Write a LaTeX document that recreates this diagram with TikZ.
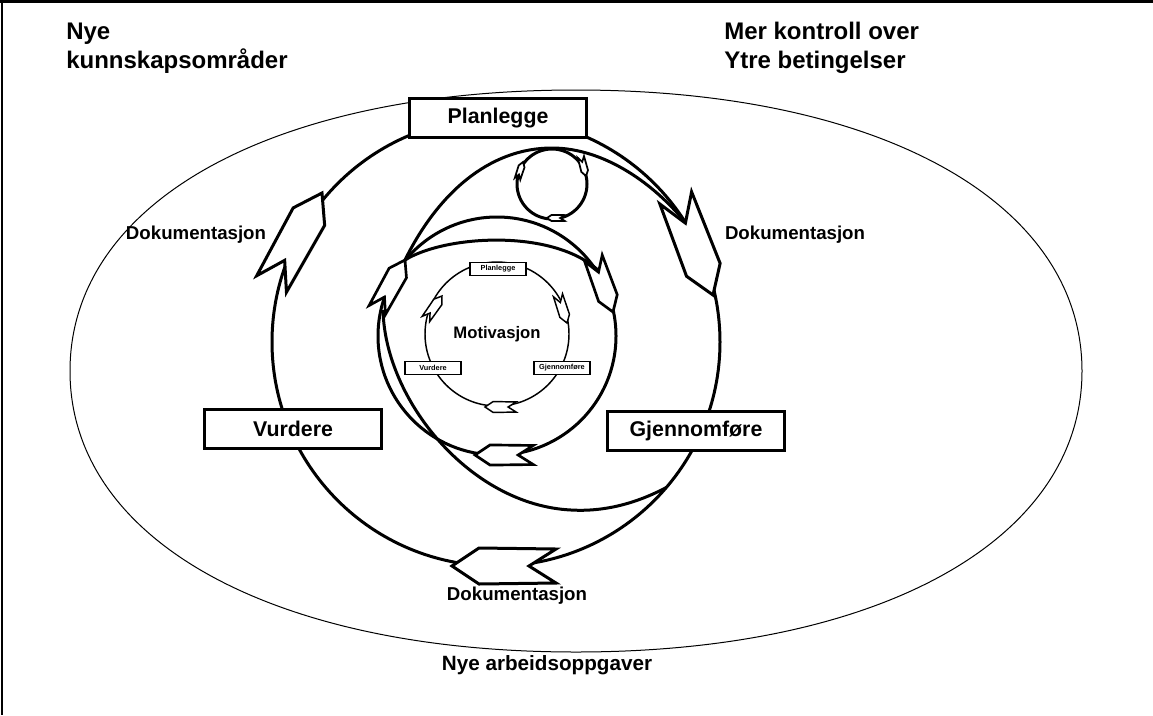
\documentclass[tikz,border=0pt]{standalone}
\usepackage{fontspec}
\setmainfont{Liberation Sans}
\begin{document}
\begin{tikzpicture}[x=0.75pt,y=-0.75pt,
  thickline/.style={line width=2.25pt},
  bigbox/.style={draw, line width=2.25pt, fill=white, minimum width=133pt, minimum height=29pt, inner sep=0pt, font=\fontsize{16}{18}\selectfont\bfseries},
  smallbox/.style={draw, line width=1.2pt, fill=white, minimum width=42pt, minimum height=10pt, inner sep=0pt, font=\fontsize{5.5}{6}\selectfont\bfseries},
  heading/.style={anchor=base west, inner sep=0pt, font=\fontsize{18}{20}\selectfont\bfseries},
  doclabel/.style={anchor=base, inner sep=0pt, font=\fontsize{14}{16}\selectfont\bfseries},
  arrowbody/.style={draw, fill=white, line join=miter, miter limit=6},
  docarrow/.pic={\path[arrowbody] (0,0) -- (-27,18) -- (-104,17) -- (-77,0) -- (-104,-17) -- (-27,-18) -- cycle;}
]
\useasboundingbox (0,0) rectangle (1153,715);

% page frame: top and left edge
\coordinate (ftl) at (0,1.5);
\coordinate (ftr) at (1153,1.5);
\coordinate (fl0) at (2,0);
\coordinate (fl1) at (2,715);
\draw[line width=2.25pt] (ftl) -- (ftr);
\draw[line width=1.5pt] (fl0) -- (fl1);

% outer oval
\coordinate (ovW) at (70,371);
\coordinate (ovN) at (576,90);
\coordinate (ovE) at (1082,371);
\coordinate (ovS) at (576,652);
\draw[line width=0.75pt] (ovW) .. controls (70,202) and (272,90) .. (ovN)
  .. controls (880,90) and (1082,202) .. (ovE)
  .. controls (1082,540) and (880,652) .. (ovS)
  .. controls (272,652) and (70,540) .. (ovW) -- cycle;

% the spiral: inner, middle and outer cycle
\draw[line width=1.1pt] (497,334) circle[radius=72];
\draw[thickline] (497,336) circle[radius=119];
\draw[thickline] (496,342) circle[radius=224];
\draw[thickline] (552,184) circle[radius=35];

% connecting turns of the spiral
\coordinate (m2tip) at (405,260);
\coordinate (m2notch) at (600,272);
\coordinate (bignotch) at (685,222);
\coordinate (m2side) at (383,310);
\coordinate (lowjoin) at (666.3,487.5);
\draw[thickline] (m2tip) .. controls (445,235) and (555,228) .. (m2notch);
\draw[thickline] (m2tip) .. controls (437,195) and (488,148) .. (552,148) .. controls (605,148) and (655,185) .. (bignotch);
\draw[thickline] (m2side) .. controls (385,400) and (470,505) .. (571,510) .. controls (605,512) and (637,503) .. (lowjoin);

% arrows on the outer cycle
\path (322,193) pic[rotate=61, line width=2.25pt] {docarrow};
\path (713,295) pic[rotate=-69, line width=2.25pt] {docarrow};
\path (452,566) pic[rotate=180, line width=2.25pt] {docarrow};
% arrows on the middle cycle
\path (405,260) pic[rotate=61, scale=0.55, line width=2pt] {docarrow};
\path (613,312) pic[rotate=-70, scale=0.55, line width=2pt] {docarrow};
\path (475,455) pic[rotate=180, scale=0.56, line width=2pt] {docarrow};
% arrows on the inner cycle
\path (442,296) pic[rotate=55, scale=0.27, line width=1.1pt] {docarrow};
\path (567,323) pic[rotate=-72, scale=0.28, line width=1.1pt] {docarrow};
\path (485,407) pic[rotate=180, scale=0.3, line width=1.1pt] {docarrow};
% arrows on the small cycle
\path (523,162) pic[rotate=72, scale=0.17, line width=1.3pt] {docarrow};
\path (586,176) pic[rotate=-75, scale=0.19, line width=1.3pt] {docarrow};
\path (547,218) pic[rotate=180, scale=0.17, line width=1.3pt] {docarrow};

% phase boxes
\node[bigbox] (plan) at (498,118) {Planlegge};
\node[bigbox] (vurd) at (293,429) {Vurdere};
\node[bigbox] (gjen) at (696,431) {Gjennomføre};
\node[smallbox] (splan) at (498,269) {Planlegge};
\node[smallbox] (svurd) at (433,368) {Vurdere};
\node[smallbox] (sgjen) at (562,368) {Gjennomføre};

% labels
\node[font=\fontsize{12.5}{14}\selectfont\bfseries] (motiv) at (497,334) {Motivasjon};
\node[doclabel] (dokL) at (196,239) {Dokumentasjon};
\node[doclabel] (dokR) at (795,239) {Dokumentasjon};
\node[doclabel] (dokB) at (517,600) {Dokumentasjon};
\node[heading] (nye) at (66,39) {Nye};
\node[heading] (kunn) at (66,68) {kunnskapsområder};
\node[heading] (mer) at (724,39) {Mer kontroll over};
\node[heading] (ytre) at (724,68) {Ytre betingelser};
\node[anchor=base, inner sep=0pt, font=\fontsize{15.5}{18}\selectfont\bfseries] (arb) at (547,670) {Nye arbeidsoppgaver};
\end{tikzpicture}
\end{document}
